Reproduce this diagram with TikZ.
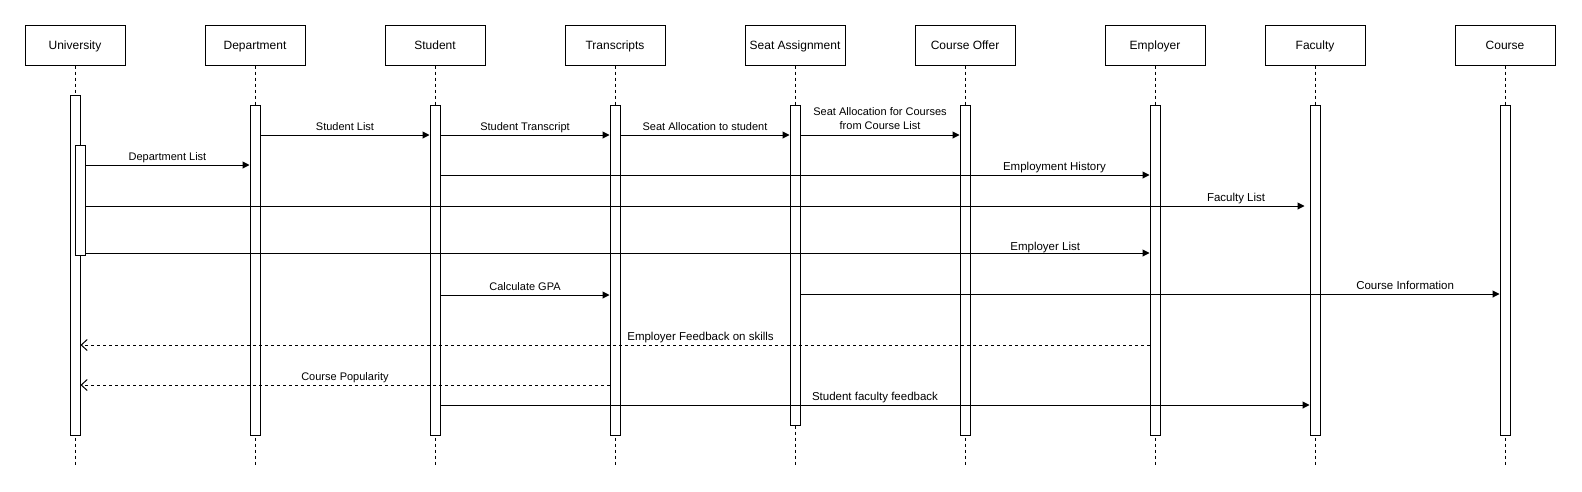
\documentclass[tikz,border=0pt]{standalone}
\usepackage{fontspec}
\setmainfont{Liberation Sans}
\usetikzlibrary{arrows.meta}

\begin{document}
\begin{tikzpicture}[x=1pt, y=-1pt, line width=1pt,
    head/.style={draw, fill=white, minimum width=100pt, minimum height=40pt, inner sep=0pt,
        text height=10pt, text depth=2pt, font=\fontsize{12}{14}\selectfont},
    life/.style={dash pattern=on 3pt off 3pt},
    bar/.style={draw, fill=white, minimum width=10pt, inner sep=0pt, anchor=north},
    msg/.style={-{Triangle[length=7pt, width=7pt]}},
    reply/.style={dash pattern=on 3pt off 3pt, -{Straight Barb[length=6pt, width=11pt]}},
    lbl/.style={font=\fontsize{11}{13}\selectfont, anchor=base, inner sep=0pt, yshift=5pt},
    biglbl/.style={lbl, font=\fontsize{11.5}{13}\selectfont}]

    \useasboundingbox (0,0) rectangle (1582,491);

    % Draw the lifeline heads and the dashed lifelines
    \foreach \name/\x/\title in {Univ/75/University, Dept/255/Department, Stud/435/Student,
        Trans/615/Transcripts, Seat/795/Seat Assignment, Offer/965/Course Offer,
        Emp/1155/Employer, Fac/1315/Faculty, Course/1505/Course}
    {
        \node[head] (\name) at (\x,45) {\title};
        \draw[life] (\name.south) -- (\x,465);
    }

    % Draw the activation bars
    \foreach \name/\top/\bot in {Univ/95/435, Dept/105/435, Stud/105/435, Trans/105/435,
        Seat/105/425, Offer/105/435, Emp/105/435, Fac/105/435, Course/105/435}
        \node[bar, minimum height={\bot-\top}] (\name-bar) at (\name.south |- 0,\top) {};
    \node[bar, minimum height=110pt] (Univ-inner) at (80,145) {};

    % Synchronous messages
    \draw[msg] (Dept-bar.east |- 0,135) -- node[lbl] {Student List} (Stud-bar.west |- 0,135);
    \draw[msg] (Stud-bar.east |- 0,135) -- node[lbl] {Student Transcript} (Trans-bar.west |- 0,135);
    \draw[msg] (Trans-bar.east |- 0,135) -- node[lbl] {Seat Allocation to student} (Seat-bar.west |- 0,135);
    \draw[msg] (Seat-bar.east |- 0,135) -- node[lbl, anchor=south, align=center, font=\fontsize{11}{13.4}\selectfont]
        {Seat Allocation for Courses\\from Course List} (Offer-bar.west |- 0,135);
    \draw[msg] (Univ-inner.east |- 0,165) -- node[lbl] {Department List} (Dept-bar.west |- 0,165);
    \draw[msg] (Stud-bar.east |- 0,175) -- node[biglbl, pos=0.866] {Employment History} (Emp-bar.west |- 0,175);
    \draw[msg, shorten >=5pt] (Univ-inner.east |- 0,206) -- node[biglbl, pos=0.94] {Faculty List} (Fac-bar.west |- 0,206);
    \draw[msg] (Univ-inner.east |- 0,253) -- node[biglbl, pos=0.902, yshift=-2pt] {Employer List} (Emp-bar.west |- 0,253);
    \draw[msg] (Stud-bar.east |- 0,295) -- node[lbl] {Calculate GPA} (Trans-bar.west |- 0,295);
    \draw[msg] (Seat-bar.east |- 0,294) -- node[biglbl, pos=0.865] {Course Information} (Course-bar.west |- 0,294);
    \draw[msg] (Stud-bar.east |- 0,405) -- node[biglbl] {Student faculty feedback} (Fac-bar.west |- 0,405);

    % Return messages
    \draw[reply] (Emp-bar.west |- 0,345) -- node[biglbl, pos=0.42] {Employer Feedback on skills} (Univ-bar.east |- 0,345);
    \draw[reply] (Trans-bar.west |- 0,385) -- node[lbl] {Course Popularity} (Univ-bar.east |- 0,385);

\end{tikzpicture}
\end{document}
